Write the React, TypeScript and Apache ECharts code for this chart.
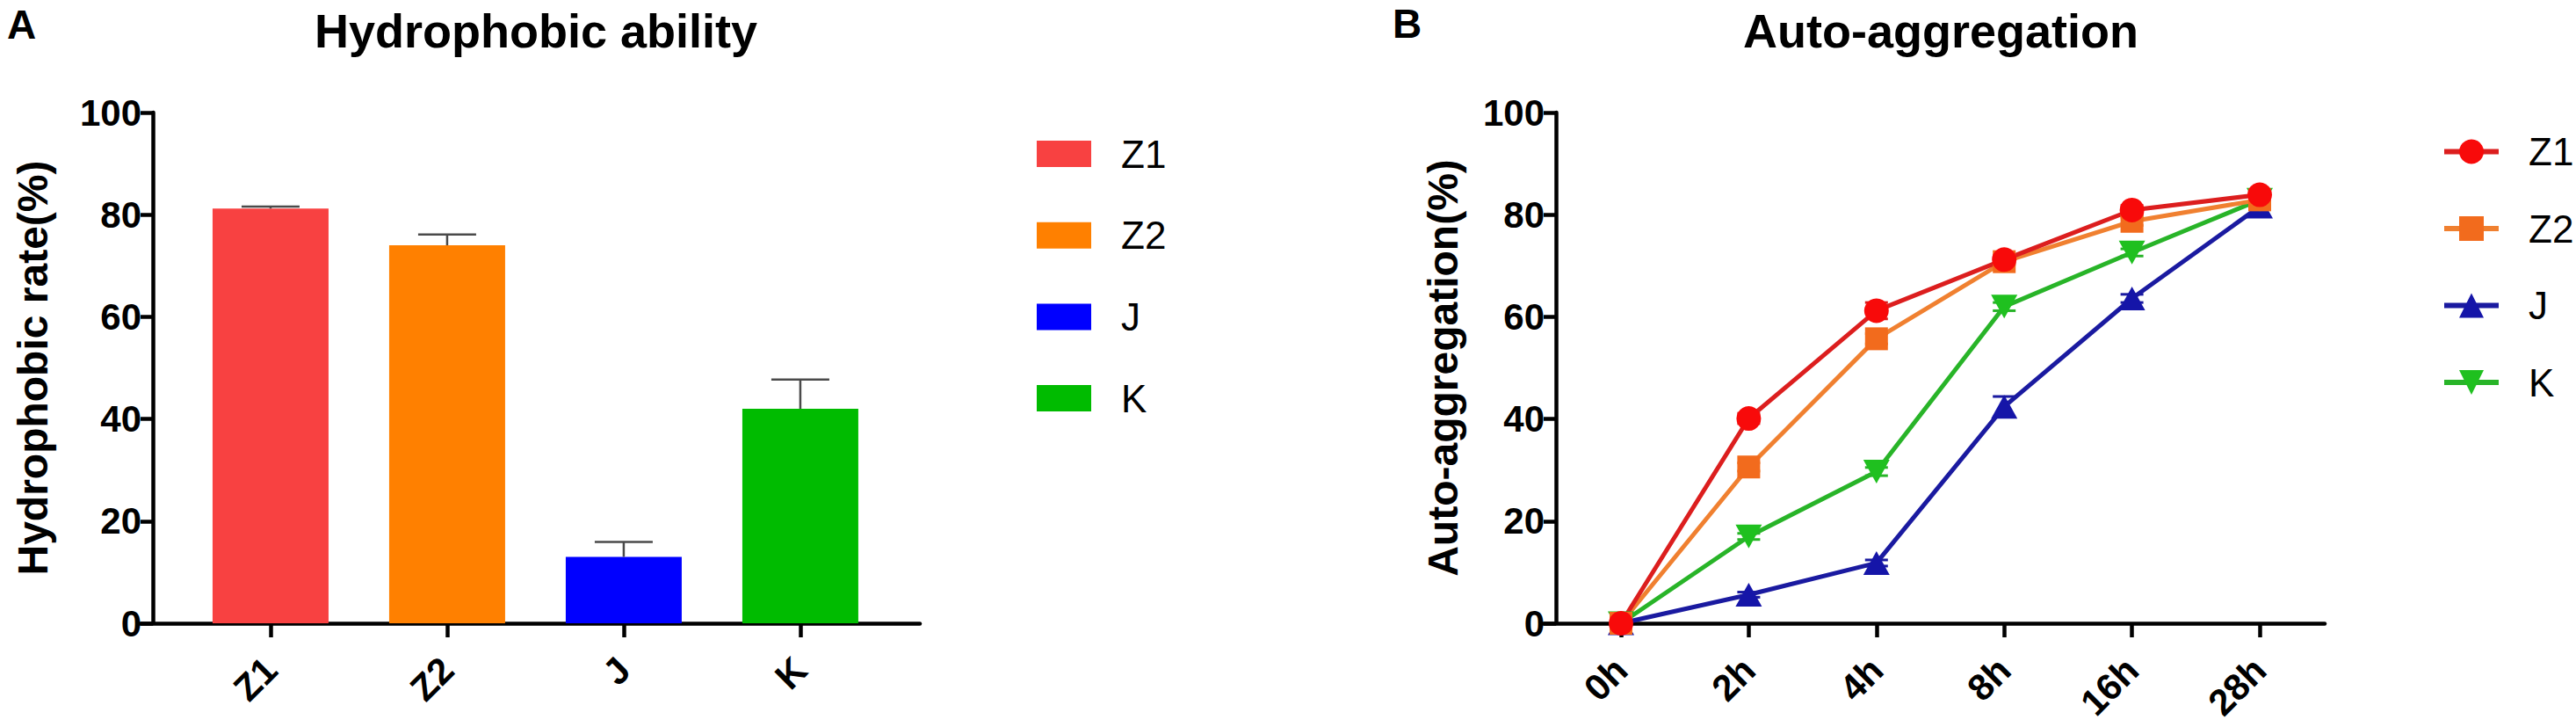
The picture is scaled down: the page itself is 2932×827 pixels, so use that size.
import React, { useEffect, useRef } from "react";
import * as echarts from "echarts";

// ---------- data ----------
const barCategories = ["Z1", "Z2", "J", "K"];
const barValues = [81.2, 74.0, 13.0, 42.0];
const barErrors = [0.4, 2.1, 2.9, 5.7];
const barColors = ["#F84141", "#FF8000", "#0000FF", "#00BB00"];

const timeLabels = ["0h", "2h", "4h", "8h", "16h", "28h"];
const z1Values = [0, 40.1, 61.2, 71.2, 80.9, 83.9];
const z2Values = [0, 30.6, 55.7, 70.8, 78.7, 82.9];
const jValues = [0, 5.6, 11.8, 42.4, 63.6, 81.6];
const kValues = [0, 17.0, 29.7, 62.0, 72.6, 82.9];
const z1Errors = [0, 1.0, 1.6, 0.8, 0.9, 0.6];
const z2Errors = [0, 0.8, 1.0, 0.6, 0.8, 0.5];
const jErrors = [0, 0.5, 0.6, 2.0, 0.8, 0.6];
const kErrors = [0, 0.6, 0.8, 0.8, 0.7, 0.5];
const yTicks = [0, 20, 40, 60, 80, 100];

const FONT = '"Liberation Sans", Arial, Helvetica, sans-serif';

const lineSeriesDefs = [
  { name: "J ", values: jValues, errors: jErrors, line: "#1A1AA0", mark: "#1515A8", symbol: "triangle", size: [30, 27], rotate: 0 },
  { name: "K ", values: kValues, errors: kErrors, line: "#28B428", mark: "#1FC01F", symbol: "triangle", size: [30, 27], rotate: 180 },
  { name: "Z2 ", values: z2Values, errors: z2Errors, line: "#F08030", mark: "#F26B1D", symbol: "rect", size: 26, rotate: 0 },
  { name: "Z1 ", values: z1Values, errors: z1Errors, line: "#DC1E1E", mark: "#F80A0A", symbol: "circle", size: 28, rotate: 0 },
];

export default function App() {
  const ref = useRef<HTMLDivElement>(null);

  useEffect(() => {
    if (!ref.current) return;
    const chart = echarts.init(ref.current, undefined, { renderer: "svg" });

    const axisLineStyle = { color: "#000", width: 4.5 };
    const tickLabelStyle = { color: "#000", fontSize: 42, fontWeight: "bold" as const, fontFamily: FONT };

    const yAxisCommon = (name: string, gridIndex: number, nameGap: number) => ({
      type: "value",
      gridIndex,
      min: 0,
      max: 100,
      interval: 20,
      offset: -16,
      name,
      nameLocation: "middle",
      nameGap,
      nameTextStyle: { color: "#000", fontSize: 48, fontWeight: "bold", fontFamily: FONT },
      axisLine: { show: true, onZero: false, lineStyle: axisLineStyle },
      axisTick: { show: true, length: 14, lineStyle: { color: "#000", width: 4.5 } },
      axisLabel: { ...tickLabelStyle, margin: 13, customValues: yTicks },
      splitLine: { show: false },
    });

    const barSeries = barCategories.map((c, i) => ({
      type: "bar",
      name: c,
      xAxisIndex: 0,
      yAxisIndex: 0,
      barWidth: 132,
      barGap: "-100%",
      data: [[i, barValues[i]]],
      itemStyle: { color: barColors[i] },
      z: 2,
    }));

    const barErrSeries = {
      type: "custom",
      name: "bar-error",
      xAxisIndex: 0,
      yAxisIndex: 0,
      z: 3,
      data: barCategories.map((_, i) => [i, barValues[i], barErrors[i]]),
      encode: { x: 0, y: 1 },
      renderItem: (params: any, api: any) => {
        const x = api.value(0);
        const v = api.value(1);
        const e = api.value(2);
        const top = api.coord([x, v + e]);
        const base = api.coord([x, v]);
        const hw = 33;
        const style = { stroke: "#4a4a4a", lineWidth: 2.5 };
        return {
          type: "group",
          children: [
            { type: "line", shape: { x1: top[0], y1: top[1], x2: base[0], y2: base[1] }, style },
            { type: "line", shape: { x1: top[0] - hw, y1: top[1], x2: top[0] + hw, y2: top[1] }, style },
          ],
        };
      },
    };

    const lineSeries = lineSeriesDefs.map((d) => ({
      type: "line",
      name: d.name,
      xAxisIndex: 1,
      yAxisIndex: 1,
      data: d.values.map((v, i) => [i, v]),
      symbol: d.symbol,
      symbolSize: d.size,
      symbolRotate: d.rotate,
      showSymbol: true,
      lineStyle: { color: d.line, width: 5 },
      itemStyle: { color: d.mark, borderWidth: 0 },
      z: 4,
    }));

    const lineErrSeries = lineSeriesDefs.map((d) => ({
      type: "custom",
      name: d.name.trim() + "-error",
      xAxisIndex: 1,
      yAxisIndex: 1,
      z: 3,
      data: d.values.map((v, i) => [i, v, d.errors[i]]),
      encode: { x: 0, y: 1 },
      renderItem: (params: any, api: any) => {
        const x = api.value(0);
        const v = api.value(1);
        const e = api.value(2);
        const top = api.coord([x, v + e]);
        const bot = api.coord([x, v - e]);
        const hw = 13;
        const style = { stroke: d.line, lineWidth: 3 };
        return {
          type: "group",
          children: [
            { type: "line", shape: { x1: top[0], y1: top[1], x2: bot[0], y2: bot[1] }, style },
            { type: "line", shape: { x1: top[0] - hw, y1: top[1], x2: top[0] + hw, y2: top[1] }, style },
            { type: "line", shape: { x1: bot[0] - hw, y1: bot[1], x2: bot[0] + hw, y2: bot[1] }, style },
          ],
        };
      },
    }));

    const legendText = {
      color: "#000",
      fontSize: 44,
      fontFamily: FONT,
      padding: [0, 0, 0, 29],
    };

    const option: any = {
      animation: false,
      backgroundColor: "#ffffff",
      title: [
        { text: "A", left: 8, top: 5, padding: 0, textStyle: { color: "#000", fontSize: 46, fontWeight: "bold", fontFamily: FONT } },
        { text: "B", left: 1585, top: 4, padding: 0, textStyle: { color: "#000", fontSize: 46, fontWeight: "bold", fontFamily: FONT } },
        { text: "Hydrophobic ability", left: 610, top: 8, padding: 0, textAlign: "center", textStyle: { color: "#000", fontSize: 54, fontWeight: "bold", fontFamily: FONT } },
        { text: "Auto-aggregation", left: 2209, top: 8, padding: 0, textAlign: "center", textStyle: { color: "#000", fontSize: 54, fontWeight: "bold", fontFamily: FONT } },
      ],
      legend: [
        {
          data: barCategories,
          orient: "vertical",
          left: 1180,
          top: 153,
          padding: 0,
          itemWidth: 62,
          itemHeight: 30,
          itemGap: 48.7,
          icon: "rect",
          selectedMode: false,
          textStyle: { ...legendText, lineHeight: 30 },
        },
        {
          data: ["Z1 ", "Z2 ", "J ", "K "],
          orient: "vertical",
          left: 2779,
          top: 150.5,
          padding: 0,
          itemWidth: 62,
          itemHeight: 35,
          itemGap: 43.5,
          selectedMode: false,
          lineStyle: { width: 6 },
          formatter: (name: string) => name.trim(),
          textStyle: { ...legendText, lineHeight: 35 },
        },
      ],
      grid: [
        { left: 158, top: 128, width: 889, height: 581, containLabel: false, outerBoundsMode: "none" },
        { left: 1755, top: 128, width: 891, height: 581, containLabel: false, outerBoundsMode: "none" },
      ],
      xAxis: [
        {
          type: "value",
          gridIndex: 0,
          min: -0.746,
          max: 3.677,
          axisLine: { show: true, onZero: false, lineStyle: axisLineStyle },
          axisTick: { show: true, length: 16, customValues: [0, 1, 2, 3], lineStyle: { color: "#000", width: 4.5 } },
          axisLabel: {
            ...tickLabelStyle,
            customValues: [0, 1, 2, 3],
            rotate: 45,
            margin: 46,
            formatter: (v: number) => barCategories[Math.round(v)] ?? "",
          },
          splitLine: { show: false },
        },
        {
          type: "value",
          gridIndex: 1,
          min: -0.619,
          max: 5.509,
          axisLine: { show: true, onZero: false, lineStyle: axisLineStyle },
          axisTick: { show: true, length: 16, customValues: [0, 1, 2, 3, 4, 5], lineStyle: { color: "#000", width: 4.5 } },
          axisLabel: {
            ...tickLabelStyle,
            customValues: [0, 1, 2, 3, 4, 5],
            rotate: 45,
            margin: 46,
            formatter: (v: number) => timeLabels[Math.round(v)] ?? "",
          },
          splitLine: { show: false },
        },
      ],
      yAxis: [yAxisCommon("Hydrophobic rate(%)", 0, 113), yAxisCommon("Auto-aggregation(%)", 1, 105)],
      series: [...barSeries, barErrSeries, ...lineErrSeries, ...lineSeries],
    };

    chart.setOption(option);
    return () => {
      chart.dispose();
    };
  }, []);

  return (
    <div
      ref={ref}
      style={{ position: "fixed", left: 0, top: 0, width: 2932, height: 827, background: "#fff" }}
    />
  );
}
